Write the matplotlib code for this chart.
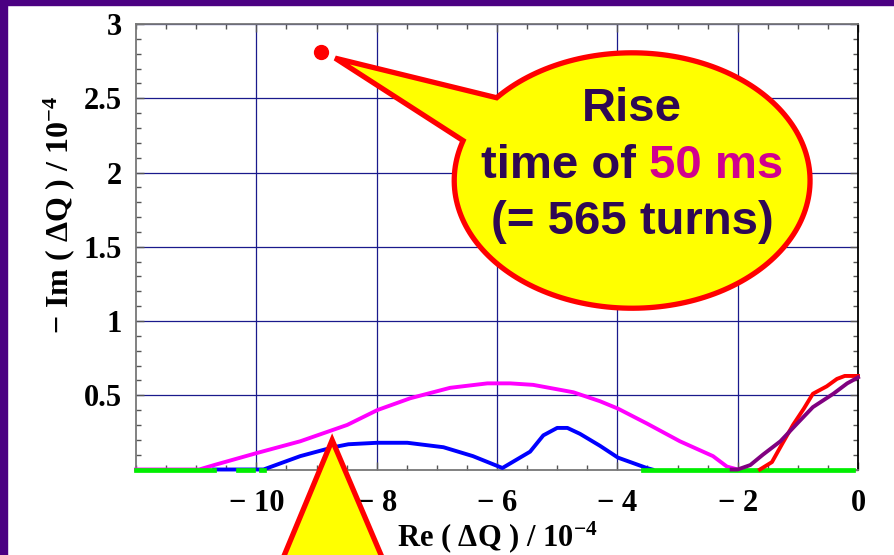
import numpy as np
import matplotlib
matplotlib.use("Agg")
import matplotlib.pyplot as plt
from matplotlib.patches import Polygon, Rectangle

# Stability diagram curves (Re / Im of the tune shift, in units of 1e-4)
mag_x = [-12, -10.95, -10.7, -10.0, -9.27, -8.49, -7.99, -7.44, -6.78, -6.16,
         -5.78, -5.40, -4.73, -4.29, -3.99, -3.51, -2.96, -2.41, -2.18, -2.0]
mag_y = [0, 0, 0.03, 0.11, 0.19, 0.30, 0.40, 0.48, 0.55, 0.58,
         0.58, 0.57, 0.52, 0.46, 0.41, 0.31, 0.19, 0.09, 0.02, 0.0]

blue_x = [-10.7, -9.88, -9.27, -8.72, -8.47, -7.99, -7.49, -6.89, -6.40, -5.91,
          -5.45, -5.23, -5.0, -4.83, -4.62, -4.29, -3.99, -3.51, -3.42]
blue_y = [0, 0, 0.09, 0.15, 0.17, 0.18, 0.18, 0.15, 0.09, 0.01,
          0.12, 0.23, 0.28, 0.28, 0.24, 0.16, 0.08, 0.01, 0.0]

green_x = [-12, -10.7, np.nan, -10.3, -10.05, np.nan, -9.93, -9.88, np.nan, -3.57, -0.08]
green_y = [0, 0, np.nan, 0, 0, np.nan, 0, 0, np.nan, 0, 0]

red_x = [-1.63, -1.43, -1.25, -1.08, -0.9, -0.75, -0.52, -0.35, -0.22, 0]
red_y = [0, 0.05, 0.18, 0.30, 0.41, 0.51, 0.56, 0.61, 0.63, 0.63]

purple_x = [-2.1, -2.0, -1.79, -1.58, -1.29, -1.01, -0.75, -0.41, -0.18, 0]
purple_y = [0, 0.0, 0.03, 0.10, 0.19, 0.31, 0.42, 0.51, 0.58, 0.62]

# single point for the 50 ms rise time
dot_x = [-8.92]
dot_y = [2.81]

xtick_vals = [-10, -8, -6, -4, -2, 0]
xtick_labels = ["\u2212 10", "\u2212 8", "\u2212 6", "\u2212 4", "\u2212 2", "0"]
ytick_vals = [0.5, 1, 1.5, 2, 2.5, 3]
ytick_labels = ["0.5", "1", "1.5", "2", "2.5", "3"]

plt.rcParams["mathtext.fontset"] = "custom"
plt.rcParams["mathtext.bf"] = "Liberation Serif:bold"
plt.rcParams["mathtext.rm"] = "Liberation Serif:bold"

serif = "Liberation Serif"
sans = "Liberation Sans"
navy = "#1a1a8c"
txt_dark = "#2E0854"

fig = plt.figure(figsize=(8.94, 5.55), dpi=100)
fig.patch.set_facecolor("white")

# purple frame strips (left and top)
fig.patches.append(Rectangle((0, 0), 7 / 894, 1, transform=fig.transFigure,
                             color="#4B0082", zorder=0))
fig.patches.append(Rectangle((0, 1 - 5 / 555), 1, 5 / 555, transform=fig.transFigure,
                             color="#4B0082", zorder=0))

ax = fig.add_axes([136 / 894, 85.5 / 555, 722 / 894, 445.5 / 555])
ax.set_xlim(-12, 0)
ax.set_ylim(0, 3)

lw = 2.8
ax.plot(mag_x, mag_y, color="#FF00FF", lw=lw, zorder=3, clip_on=False)
ax.plot(blue_x, blue_y, color="#0000FF", lw=lw, zorder=3, clip_on=False)
ax.plot(green_x, green_y, color="#00EE00", lw=3.4, zorder=4, clip_on=False)
ax.plot(red_x, red_y, color="#FF0000", lw=lw, zorder=4, clip_on=False)
ax.plot(purple_x, purple_y, color="#800080", lw=lw, zorder=5, clip_on=False)
ax.plot(dot_x, dot_y, "o", color="#FF0000", ms=10, zorder=6)

# ticks and grid
ax.set_xticks(xtick_vals)
ax.set_xticklabels(xtick_labels)
ax.set_yticks(ytick_vals)
ax.set_yticklabels(ytick_labels)
ax.set_xticks(np.arange(-12, 0.01, 0.5), minor=True)
ax.set_yticks(np.arange(0, 3.01, 0.1), minor=True)
ax.tick_params(which="both", direction="in", top=True, right=True, colors="#555555")
ax.tick_params(which="major", length=6, width=1)
ax.tick_params(which="minor", length=3.5, width=1)
ax.tick_params(axis="x", pad=14, labelcolor="black")
ax.tick_params(axis="y", pad=10, labelcolor="black")
for lab in ax.get_xticklabels() + ax.get_yticklabels():
    lab.set_fontfamily(serif)
    lab.set_fontweight("bold")
    lab.set_fontsize(22)
ax.grid(True, which="major", color=navy, lw=0.9)
for side in ["left", "top", "bottom"]:
    ax.spines[side].set_color("#777777")
    ax.spines[side].set_linewidth(1.3)
ax.spines["right"].set_color("black")
ax.spines["right"].set_linewidth(1.3)

ax.set_xlabel(r"Re ( $\Delta$Q ) / $\mathbf{10^{-4}}$", fontfamily=serif,
              fontweight="bold", fontsize=22, labelpad=1)
fig.text(59 / 894, 1 - 215 / 555, r"$-$ Im ( $\Delta$Q ) / $\mathbf{10^{-4}}$",
         rotation=90, ha="center", va="center", fontfamily=serif,
         fontweight="bold", fontsize=23)

# speech bubble: ellipse with a tail pointing at the dot
cx, cy, a, b = -3.754, 1.946, 2.957, 0.860
t = np.radians(np.linspace(161.8, 499.6, 200))
bx = cx + a * np.cos(t)
by = cy + b * np.sin(t)
tip = (-8.69, 2.77)
pts = np.column_stack([np.append(bx, tip[0]), np.append(by, tip[1])])
ax.add_patch(Polygon(pts, closed=True, facecolor="#FFFF00", edgecolor="#FF0000",
                     lw=3.8, joinstyle="miter", zorder=7, clip_on=False))

fs = 34
ax.text(cx, 2.349, "Rise", ha="center", va="baseline", fontfamily=sans,
        fontweight="bold", fontsize=fs, color=txt_dark, zorder=8)
ax.text(cx, 1.589, "(= 565 turns)", ha="center", va="baseline", fontfamily=sans,
        fontweight="bold", fontsize=fs, color=txt_dark, zorder=8)

# middle line in two colours, laid out from its measured width
renderer = fig.canvas.get_renderer()
probe = ax.text(0, 0, "time of 50 ms", fontfamily=sans, fontweight="bold", fontsize=fs)
w_full = probe.get_window_extent(renderer).width
probe.remove()
px_per_unit = ax.transData.transform((1, 0))[0] - ax.transData.transform((0, 0))[0]
half = w_full / 2 / px_per_unit
ax.text(cx - half, 1.966, "time of", ha="left", va="baseline", fontfamily=sans,
        fontweight="bold", fontsize=fs, color=txt_dark, zorder=8)
ax.text(cx + half, 1.966, "50 ms", ha="right", va="baseline", fontfamily=sans,
        fontweight="bold", fontsize=fs, color="#D1008F", zorder=8)

# arrow-head triangle rising from the bottom edge
tri = [(-9.60, -0.64), (-8.74, 0.198), (-7.86, -0.64)]
ax.add_patch(Polygon(tri, closed=True, facecolor="#FFFF00", edgecolor="#FF0000",
                     lw=3.8, joinstyle="miter", zorder=9, clip_on=False))

fig.savefig("out.png", dpi=100)
